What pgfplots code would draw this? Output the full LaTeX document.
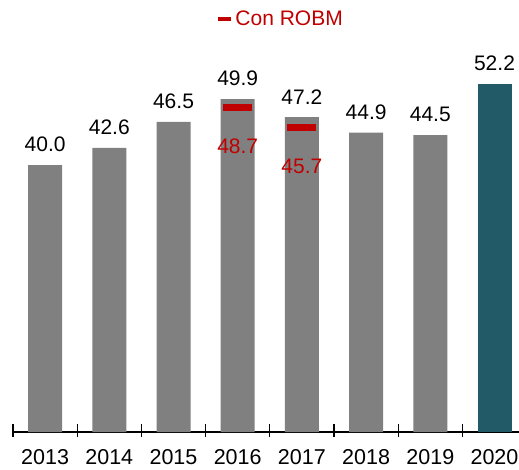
\documentclass[border=0pt]{standalone}
\usepackage{fontspec}
\setmainfont{Liberation Sans}
\usepackage{pgfplots}
\pgfplotsset{compat=1.18}
\definecolor{bargray}{HTML}{808080}
\definecolor{barteal}{HTML}{235A68}
\definecolor{robmred}{HTML}{C00000}
\begin{document}
\begin{tikzpicture}
\begin{axis}[
  at={(0,0)}, anchor=south west,
  x=64.2pt, y=6.67pt,
  xmin=-0.5, xmax=7.38, ymin=0, ymax=64.77,
  axis x line=bottom, hide y axis,
  axis line style={black, line width=1.2pt, -},
  ybar, bar width=34pt, bar shift=0pt,
  xtick={0,...,7},
  xticklabels={2013,2014,2015,2016,2017,2018,2019,2020},
  major tick length=0pt,
  minor xtick={-0.5,0.5,...,6.5},
  minor tick length=13pt,
  tick align=center,
  minor tick style={black, line width=1.2pt, yshift=1.5pt},
  xticklabel style={font=\fontsize{21.5}{25}\selectfont, yshift=-16pt, inner sep=1pt},
  /pgf/number format/assume math mode=true,
  /pgf/number format/.cd, fixed, fixed zerofill, precision=1, /pgfplots/.cd,
  nodes near coords,
  every node near coord/.append style={font=\fontsize{21}{25}\selectfont, anchor=center, yshift=20.5pt},
  legend style={draw=none, fill=none, at={(0.529,0.956)}, anchor=center,
    font=\fontsize{21}{25}\selectfont, text=robmred},
  clip=false,
]
\addplot[fill=bargray, draw=none, forget plot] coordinates {
  (0,40.0) (1,42.6) (2,46.5) (3,49.9) (4,47.2) (5,44.9) (6,44.5)};
\addplot[fill=barteal, draw=none, forget plot] coordinates {(7,52.2)};
\addplot[only marks, mark=-, mark size=14.5pt,
  mark options={line width=7pt, draw=robmred},
  nodes near coords,
  every node near coord/.append style={text=robmred, yshift=-59.5pt},
  legend image code/.code={\draw[line width=4pt, robmred] (0pt,0pt) -- (13pt,0pt);}]
  coordinates {(3,48.7) (4,45.7)};
\addlegendentry{Con ROBM}
\end{axis}
\pgfresetboundingbox
\path (-13pt,-37pt) rectangle (506pt,432pt);
\end{tikzpicture}
\end{document}
